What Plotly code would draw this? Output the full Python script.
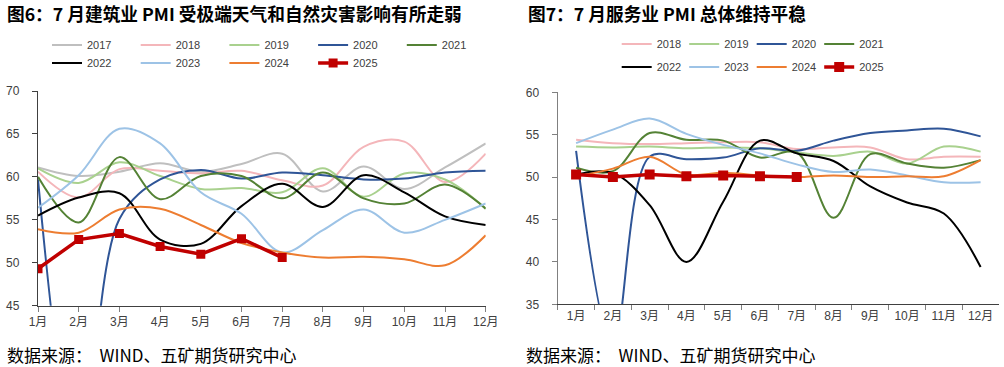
import plotly.graph_objects as go

months = ["1月", "2月", "3月", "4月", "5月", "6月", "7月", "8月", "9月", "10月", "11月", "12月"]

# 建筑业 PMI
c2017 = [61.1, 60.1, 60.6, 61.6, 60.6, 61.5, 62.7, 58.3, 61.2, 58.6, 61.1, 63.9]
c2018 = [60.6, 57.6, 60.9, 60.7, 60.4, 60.7, 59.6, 59.0, 63.5, 64.1, 59.4, 62.7]
c2019 = [61.0, 59.3, 61.7, 60.1, 58.6, 58.7, 58.2, 61.0, 57.7, 60.4, 59.7, 56.3]
c2020 = [59.7, 26.6, 55.1, 59.7, 60.8, 59.8, 60.5, 60.2, 59.7, 59.8, 60.5, 60.7]
c2021 = [60.0, 54.7, 62.3, 57.4, 60.1, 60.1, 57.5, 60.5, 57.5, 56.9, 59.1, 56.3]
c2022 = [55.5, 57.6, 58.1, 52.7, 52.2, 56.6, 59.2, 56.5, 60.2, 58.2, 55.4, 54.4]
c2023 = [56.4, 60.2, 65.6, 63.9, 58.2, 55.7, 51.2, 53.8, 56.2, 53.5, 55.0, 56.9]
c2024 = [53.9, 53.5, 56.2, 56.3, 54.4, 52.3, 51.2, 50.6, 50.7, 50.4, 49.7, 53.2]
c2025 = [49.3, 52.7, 53.4, 51.9, 51.0, 52.8, 50.6]

# 服务业 PMI
s2018 = [54.4, 54.0, 53.9, 54.0, 54.1, 54.1, 53.3, 53.5, 53.5, 52.1, 52.4, 52.4]
s2019 = [53.6, 53.5, 53.6, 53.4, 53.5, 53.4, 52.9, 52.5, 53.0, 51.6, 53.6, 53.0]
s2020 = [53.1, 30.1, 52.4, 52.1, 52.3, 53.4, 53.1, 54.3, 55.2, 55.5, 55.7, 54.8]
s2021 = [51.1, 50.7, 55.2, 54.4, 54.3, 52.3, 52.9, 45.2, 52.7, 51.6, 51.1, 52.0]
s2022 = [50.3, 50.5, 46.7, 40.0, 47.1, 54.3, 52.8, 51.9, 48.9, 47.0, 45.7, 39.4]
s2023 = [54.0, 55.6, 56.9, 55.1, 53.8, 52.8, 51.5, 50.6, 50.9, 50.2, 49.4, 49.4]
s2024 = [50.1, 51.0, 52.4, 50.3, 50.5, 50.2, 50.0, 50.2, 50.0, 50.1, 50.1, 52.0]
s2025 = [50.3, 50.0, 50.3, 50.1, 50.2, 50.1, 50.0]

colors = {
    "2017": "#BFBFBF", "2018": "#F4B6BA", "2019": "#A9D18E", "2020": "#2F5597",
    "2021": "#548235", "2022": "#000000", "2023": "#9DC3E6", "2024": "#ED7D31",
    "2025": "#C00000",
}

W, H = 1004, 367
def px(x):
    return x / W
def py(y):
    return 1 - y / H

fig = go.Figure()

left = [("2017", c2017), ("2018", c2018), ("2019", c2019), ("2020", c2020), ("2021", c2021),
        ("2022", c2022), ("2023", c2023), ("2024", c2024), ("2025", c2025)]
right = [("2018", s2018), ("2019", s2019), ("2020", s2020), ("2021", s2021),
         ("2022", s2022), ("2023", s2023), ("2024", s2024), ("2025", s2025)]

for i, (name, vals) in enumerate(left):
    is25 = name == "2025"
    fig.add_trace(go.Scatter(
        x=months[:len(vals)], y=vals, name=name,
        mode="lines+markers" if is25 else "lines",
        line=dict(color=colors[name], width=3.5 if is25 else 2,
                  shape="linear" if is25 else "spline", smoothing=1.0),
        marker=dict(symbol="square", size=9, color=colors[name]) if is25 else None,
        xaxis="x", yaxis="y",
        legend="legend" if i < 5 else "legend2",
        hoverinfo="skip",
    ))

for i, (name, vals) in enumerate(right):
    is25 = name == "2025"
    fig.add_trace(go.Scatter(
        x=months[:len(vals)], y=vals, name=name,
        mode="lines+markers" if is25 else "lines",
        line=dict(color=colors[name], width=3.5 if is25 else 2,
                  shape="linear" if is25 else "spline", smoothing=1.0),
        marker=dict(symbol="square", size=10, color=colors[name]) if is25 else None,
        xaxis="x2", yaxis="y2",
        legend="legend3" if i < 4 else "legend4",
        hoverinfo="skip",
    ))

tickfont = dict(family="Arial, Liberation Sans, Noto Sans CJK SC", size=12, color="#404040")
legfont = dict(family="Arial, Liberation Sans", size=11, color="#404040")

def legend(x, y, ew):
    return dict(orientation="h", x=px(x), y=py(y), xanchor="left", yanchor="middle",
                entrywidth=ew, entrywidthmode="pixels", font=legfont,
                bgcolor="rgba(0,0,0,0)", itemwidth=30, traceorder="normal")

fig.update_layout(
    width=W, height=H,
    margin=dict(l=0, r=0, t=0, b=0, autoexpand=False),
    paper_bgcolor="white", plot_bgcolor="white",
    showlegend=True,
    xaxis=dict(domain=[px(38), px(485.7)], type="category", categoryorder="array",
               categoryarray=months, range=[0, 11], showgrid=False, zeroline=False,
               showline=True, linecolor="#404040", linewidth=1.3,
               ticks="outside", ticklen=5, tickcolor="#808080", tickfont=tickfont,
               anchor="y", fixedrange=True),
    yaxis=dict(domain=[py(305.7), py(91)], range=[45, 70], dtick=5, showgrid=False,
               zeroline=False, showline=True, linecolor="#404040", linewidth=1.3,
               ticks="outside", ticklen=5, tickcolor="#404040", tickfont=tickfont,
               ticklabelstandoff=10, anchor="x", fixedrange=True),
    xaxis2=dict(domain=[px(557.7), px(999)], type="category", categoryorder="array",
                categoryarray=months, range=[-0.5, 11.5], showgrid=False, zeroline=False,
                showline=True, linecolor="#404040", linewidth=1.3, tickson="boundaries",
                ticks="outside", ticklen=5, tickcolor="#808080", tickfont=tickfont,
                anchor="y2", fixedrange=True),
    yaxis2=dict(domain=[py(304.3), py(92.3)], range=[35, 60], dtick=5, showgrid=False,
                zeroline=False, showline=True, linecolor="#808080", linewidth=1.3,
                ticks="outside", ticklen=5, tickcolor="#808080", tickfont=tickfont,
                ticklabelstandoff=10, anchor="x2", fixedrange=True),
    legend=legend(47, 45, 43.7),
    legend2=legend(47, 63, 43.7),
    legend3=legend(616.7, 44, 22.5),
    legend4=legend(616.7, 67, 22.5),
)

titlefont = dict(family="Noto Sans CJK SC", size=17.7, color="#000000", weight="bold")
srcfont = dict(family="Noto Sans CJK SC", size=17, color="#000000")

fig.add_annotation(text="图6：7 月建筑业 PMI 受极端天气和自然灾害影响有所走弱", xref="paper", yref="paper",
                   x=px(5), y=py(13), xanchor="left", yanchor="middle", showarrow=False, font=titlefont)
fig.add_annotation(text="图7：7 月服务业 PMI 总体维持平稳", xref="paper", yref="paper",
                   x=px(526), y=py(13), xanchor="left", yanchor="middle", showarrow=False, font=titlefont)
fig.add_annotation(text="数据来源：  WIND、五矿期货研究中心", xref="paper", yref="paper",
                   x=px(5), y=py(354), xanchor="left", yanchor="middle", showarrow=False, font=srcfont)
fig.add_annotation(text="数据来源：  WIND、五矿期货研究中心", xref="paper", yref="paper",
                   x=px(524), y=py(354), xanchor="left", yanchor="middle", showarrow=False, font=srcfont)

fig.write_html("out.html", config={"displayModeBar": False},
               post_script="document.body.style.margin='0';")
